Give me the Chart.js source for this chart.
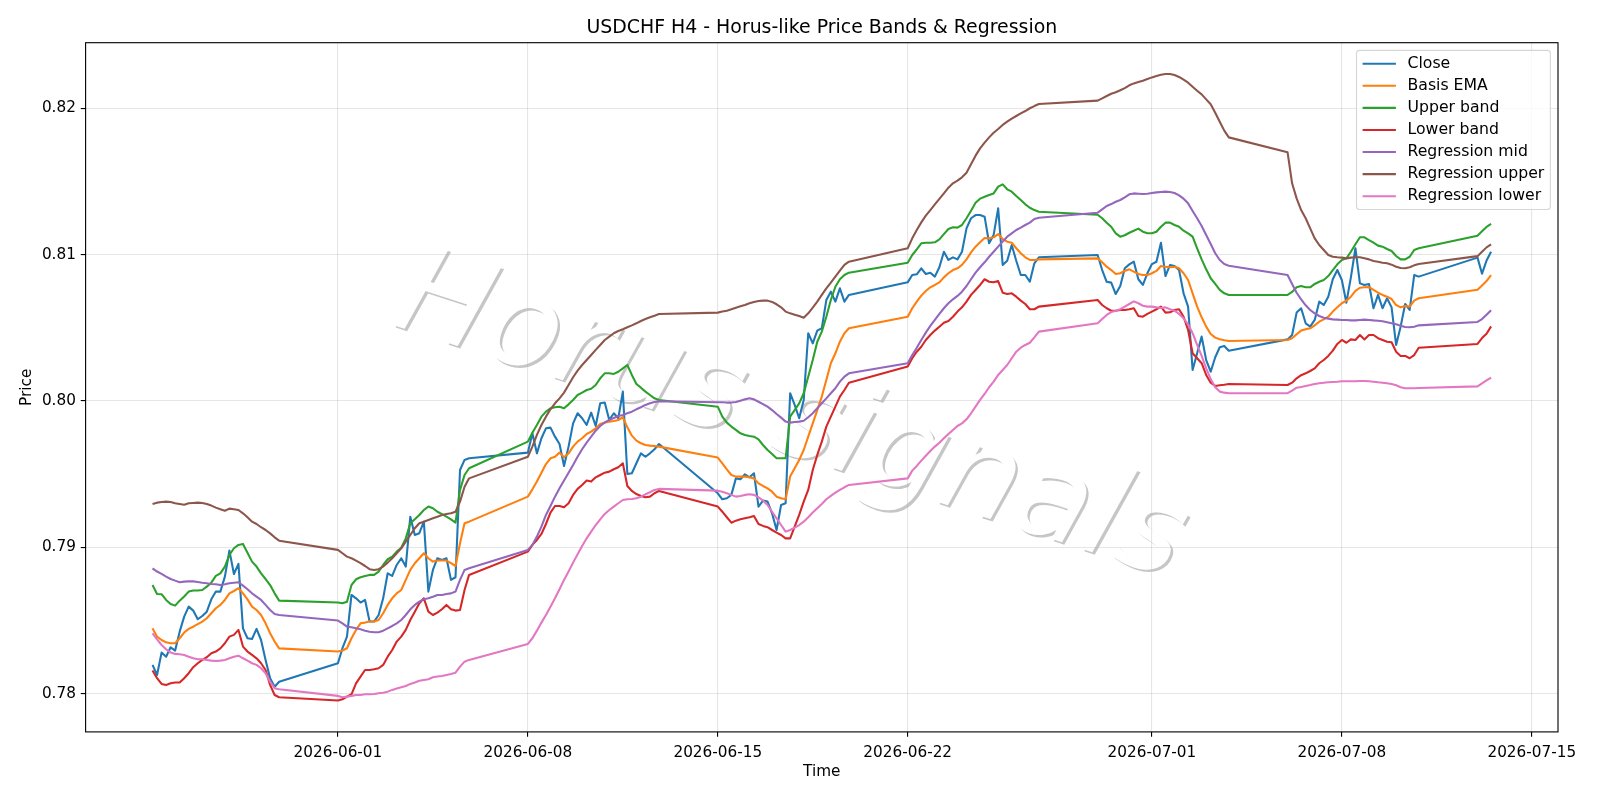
<!DOCTYPE html>
<html>
<head>
<meta charset="utf-8">
<title>USDCHF H4 - Horus-like Price Bands & Regression</title>
<script src="https://cdn.jsdelivr.net/npm/chart.js@4.4.1/dist/chart.umd.min.js"></script>
<style>
  html, body { margin: 0; padding: 0; background: #fff; }
  #chart { display: block; width: 1600px; height: 800px; }
</style>
</head>
<body>
<canvas id="chart" width="1600" height="800"></canvas>
<script>
"use strict";

// ── Data ───────────────────────────────────────────────────────────── //
// H4 bars, weekdays only (weekends show up as straight joins)
const tradingDays = [
  "2026-05-25", "2026-05-26", "2026-05-27", "2026-05-28", "2026-05-29",
  "2026-06-01", "2026-06-02", "2026-06-03", "2026-06-04", "2026-06-05",
  "2026-06-08", "2026-06-09", "2026-06-10", "2026-06-11", "2026-06-12",
  "2026-06-15", "2026-06-16", "2026-06-17", "2026-06-18", "2026-06-19",
  "2026-06-22", "2026-06-23", "2026-06-24", "2026-06-25", "2026-06-26",
  "2026-06-29", "2026-06-30", "2026-07-01", "2026-07-02", "2026-07-03",
  "2026-07-06", "2026-07-07", "2026-07-08", "2026-07-09", "2026-07-10",
  "2026-07-13",
];
const barHours  = [0, 4, 8, 12, 16, 20];
const FIRST_BAR = "2026-05-25T04:00";
const LAST_BAR  = "2026-07-13T12:00";

const xTickDates  = ["2026-06-01", "2026-06-08", "2026-06-15", "2026-06-22", "2026-07-01", "2026-07-08", "2026-07-15"];
const yTickValues = [0.78, 0.79, 0.80, 0.81, 0.82];

const close = [
  0.78196, 0.78127, 0.78280, 0.78252, 0.78316, 0.78294, 0.78423, 0.78526, 0.78594, 0.78567, 0.78508, 0.78530, 0.78560, 0.78644, 0.78697, 0.78697, 0.78799, 0.78977, 0.78817, 0.78886, 0.78446, 0.78378, 0.78373, 0.78442, 0.78366, 0.78230, 0.78105, 0.78047, 0.78081,
  0.78207, 0.78310, 0.78389, 0.78674, 0.78651, 0.78622, 0.78640, 0.78492, 0.78492, 0.78537, 0.78651, 0.78822, 0.78804, 0.78879, 0.78925, 0.78868, 0.79209, 0.79084, 0.79096, 0.79175, 0.78697, 0.78845, 0.78925, 0.78913, 0.78925, 0.78777, 0.78795, 0.79528, 0.79597, 0.79608,
  0.79647, 0.79779, 0.79642, 0.79745, 0.79813, 0.79818, 0.79756, 0.79706, 0.79556, 0.79688, 0.79847, 0.79916, 0.79882, 0.79836, 0.79920, 0.79829, 0.79984, 0.79989, 0.79870, 0.79916, 0.79882, 0.80064, 0.79501, 0.79506, 0.79574, 0.79642, 0.79619, 0.79642, 0.79670, 0.79706,
  0.79369, 0.79328, 0.79335, 0.79358, 0.79471, 0.79465, 0.79499, 0.79478, 0.79506, 0.79278, 0.79319, 0.79312, 0.79232, 0.79118, 0.79289, 0.79301, 0.80053, 0.79973, 0.79882, 0.80007, 0.80463, 0.80394, 0.80481, 0.80497, 0.80690, 0.80747, 0.80679, 0.80770, 0.80679, 0.80725,
  0.80811, 0.80861, 0.80866, 0.80907, 0.80868, 0.80877, 0.80850, 0.80914, 0.81020, 0.80964, 0.80982, 0.80968, 0.81020, 0.81180, 0.81249, 0.81271, 0.81271, 0.81260, 0.81078, 0.81135, 0.81317, 0.80930, 0.80959, 0.81066, 0.80959, 0.80861, 0.80861, 0.80815, 0.80941, 0.80982,
  0.80998, 0.80895, 0.80815, 0.80809, 0.80731, 0.80786, 0.80907, 0.80934, 0.80952, 0.80832, 0.80793, 0.80873, 0.80936, 0.80952, 0.81082, 0.80854, 0.80930, 0.80923, 0.80895, 0.80736, 0.80645, 0.80212, 0.80326, 0.80440, 0.80280, 0.80200, 0.80299, 0.80367, 0.80376, 0.80344,
  0.80421, 0.80451, 0.80604, 0.80634, 0.80531, 0.80508, 0.80554, 0.80679, 0.80656, 0.80713, 0.80832, 0.80895, 0.80827, 0.80672, 0.80845, 0.81044, 0.80804, 0.80793, 0.80800, 0.80634, 0.80725, 0.80634, 0.80702, 0.80640, 0.80383, 0.80508, 0.80663, 0.80622, 0.80861, 0.80850,
  0.80980, 0.80870, 0.80960, 0.81020,
];
const basisEma = [
  0.78446, 0.78389, 0.78366, 0.78350, 0.78344, 0.78344, 0.78378, 0.78417, 0.78442, 0.78457, 0.78474, 0.78492, 0.78515, 0.78549, 0.78583, 0.78606, 0.78640, 0.78685, 0.78701, 0.78720, 0.78685, 0.78644, 0.78594, 0.78571, 0.78537, 0.78480, 0.78412, 0.78355, 0.78309,
  0.78287, 0.78294, 0.78310, 0.78378, 0.78435, 0.78480, 0.78485, 0.78492, 0.78492, 0.78503, 0.78549, 0.78606, 0.78651, 0.78685, 0.78708, 0.78777, 0.78845, 0.78891, 0.78925, 0.78959, 0.78925, 0.78902, 0.78909, 0.78909, 0.78909, 0.78891, 0.78872, 0.79027, 0.79164, 0.79175,
  0.79346, 0.79396, 0.79449, 0.79510, 0.79569, 0.79608, 0.79619, 0.79647, 0.79615, 0.79642, 0.79688, 0.79722, 0.79745, 0.79774, 0.79790, 0.79813, 0.79843, 0.79852, 0.79859, 0.79863, 0.79870, 0.79889, 0.79820, 0.79763, 0.79729, 0.79711, 0.79699, 0.79695, 0.79692, 0.79688,
  0.79613, 0.79574, 0.79533, 0.79494, 0.79483, 0.79483, 0.79483, 0.79478, 0.79471, 0.79437, 0.79419, 0.79403, 0.79380, 0.79346, 0.79335, 0.79328, 0.79483, 0.79540, 0.79597, 0.79665, 0.79756, 0.79847, 0.79938, 0.80030, 0.80144, 0.80258, 0.80326, 0.80405, 0.80463, 0.80497,
  0.80576, 0.80634, 0.80679, 0.80720, 0.80752, 0.80777, 0.80793, 0.80811, 0.80845, 0.80873, 0.80895, 0.80907, 0.80930, 0.80968, 0.81016, 0.81055, 0.81085, 0.81114, 0.81112, 0.81119, 0.81141, 0.81107, 0.81089, 0.81082, 0.81044, 0.81010, 0.80982, 0.80964, 0.80964, 0.80968,
  0.80975, 0.80948, 0.80918, 0.80895, 0.80868, 0.80873, 0.80889, 0.80900, 0.80884, 0.80868, 0.80861, 0.80861, 0.80873, 0.80889, 0.80923, 0.80918, 0.80914, 0.80918, 0.80907, 0.80873, 0.80827, 0.80736, 0.80645, 0.80572, 0.80508, 0.80458, 0.80433, 0.80422, 0.80415, 0.80410,
  0.80417, 0.80429, 0.80456, 0.80481, 0.80490, 0.80497, 0.80517, 0.80542, 0.80558, 0.80576, 0.80611, 0.80640, 0.80668, 0.80686, 0.80713, 0.80752, 0.80774, 0.80777, 0.80779, 0.80759, 0.80740, 0.80725, 0.80713, 0.80697, 0.80656, 0.80640, 0.80649, 0.80645, 0.80686, 0.80702,
  0.80760, 0.80790, 0.80820, 0.80860,
];
const upperBand = [
  0.78742, 0.78681, 0.78679, 0.78640, 0.78612, 0.78601, 0.78635, 0.78663, 0.78697, 0.78704, 0.78704, 0.78708, 0.78731, 0.78758, 0.78804, 0.78822, 0.78868, 0.78947, 0.78993, 0.79016, 0.79023, 0.78963, 0.78902, 0.78868, 0.78822, 0.78783, 0.78742, 0.78685, 0.78635,
  0.78622, 0.78617, 0.78628, 0.78742, 0.78781, 0.78795, 0.78804, 0.78811, 0.78811, 0.78834, 0.78879, 0.78918, 0.78936, 0.78970, 0.78997, 0.79061, 0.79164, 0.79191, 0.79221, 0.79255, 0.79278, 0.79267, 0.79243, 0.79226, 0.79209, 0.79191, 0.79168, 0.79392, 0.79494, 0.79540,
  0.79722, 0.79783, 0.79836, 0.79893, 0.79927, 0.79950, 0.79957, 0.79961, 0.79950, 0.79977, 0.80007, 0.80041, 0.80057, 0.80075, 0.80084, 0.80109, 0.80155, 0.80189, 0.80189, 0.80185, 0.80200, 0.80223, 0.80246, 0.80178, 0.80116, 0.80091, 0.80064, 0.80041, 0.80018, 0.80007,
  0.79961, 0.79893, 0.79852, 0.79825, 0.79802, 0.79779, 0.79768, 0.79761, 0.79756, 0.79738, 0.79699, 0.79665, 0.79638, 0.79608, 0.79608, 0.79608, 0.79893, 0.79938, 0.79984, 0.80053, 0.80166, 0.80280, 0.80405, 0.80474, 0.80576, 0.80690, 0.80781, 0.80832, 0.80861, 0.80877,
  0.80945, 0.80998, 0.81037, 0.81078, 0.81082, 0.81082, 0.81085, 0.81105, 0.81141, 0.81176, 0.81187, 0.81185, 0.81203, 0.81249, 0.81301, 0.81355, 0.81383, 0.81396, 0.81408, 0.81419, 0.81465, 0.81481, 0.81447, 0.81431, 0.81401, 0.81374, 0.81344, 0.81321, 0.81305, 0.81294,
  0.81273, 0.81249, 0.81219, 0.81191, 0.81146, 0.81123, 0.81133, 0.81150, 0.81164, 0.81178, 0.81157, 0.81146, 0.81146, 0.81157, 0.81191, 0.81219, 0.81219, 0.81203, 0.81191, 0.81164, 0.81146, 0.81123, 0.81044, 0.80968, 0.80900, 0.80839, 0.80800, 0.80759, 0.80736, 0.80725,
  0.80725, 0.80745, 0.80777, 0.80786, 0.80777, 0.80777, 0.80800, 0.80815, 0.80827, 0.80854, 0.80895, 0.80934, 0.80964, 0.80975, 0.81020, 0.81071, 0.81119, 0.81119, 0.81100, 0.81082, 0.81062, 0.81055, 0.81039, 0.81025, 0.80991, 0.80968, 0.80968, 0.80986, 0.81032, 0.81044,
  0.81130, 0.81160, 0.81190, 0.81210,
];
const lowerBand = [
  0.78157, 0.78105, 0.78066, 0.78059, 0.78070, 0.78075, 0.78075, 0.78105, 0.78139, 0.78180, 0.78207, 0.78230, 0.78248, 0.78275, 0.78287, 0.78309, 0.78344, 0.78389, 0.78401, 0.78435, 0.78321, 0.78287, 0.78264, 0.78241, 0.78207, 0.78161, 0.78059, 0.77990, 0.77975,
  0.77952, 0.77961, 0.77979, 0.77995, 0.78070, 0.78116, 0.78161, 0.78161, 0.78166, 0.78173, 0.78196, 0.78252, 0.78298, 0.78355, 0.78389, 0.78435, 0.78503, 0.78560, 0.78617, 0.78651, 0.78560, 0.78537, 0.78553, 0.78576, 0.78606, 0.78576, 0.78567, 0.78571, 0.78708, 0.78811,
  0.78970, 0.79016, 0.79050, 0.79091, 0.79159, 0.79237, 0.79282, 0.79282, 0.79273, 0.79301, 0.79358, 0.79399, 0.79426, 0.79456, 0.79449, 0.79478, 0.79494, 0.79510, 0.79517, 0.79533, 0.79547, 0.79574, 0.79419, 0.79385, 0.79364, 0.79351, 0.79342, 0.79346, 0.79369, 0.79385,
  0.79278, 0.79243, 0.79205, 0.79168, 0.79182, 0.79191, 0.79198, 0.79205, 0.79214, 0.79159, 0.79146, 0.79137, 0.79118, 0.79100, 0.79084, 0.79061, 0.79061, 0.79141, 0.79221, 0.79312, 0.79392, 0.79528, 0.79631, 0.79722, 0.79825, 0.79893, 0.79961, 0.80030, 0.80075, 0.80125,
  0.80235, 0.80292, 0.80337, 0.80371, 0.80417, 0.80451, 0.80481, 0.80508, 0.80535, 0.80547, 0.80576, 0.80611, 0.80640, 0.80679, 0.80725, 0.80759, 0.80793, 0.80832, 0.80815, 0.80811, 0.80820, 0.80740, 0.80731, 0.80736, 0.80713, 0.80686, 0.80663, 0.80627, 0.80627, 0.80645,
  0.80690, 0.80656, 0.80634, 0.80617, 0.80617, 0.80622, 0.80622, 0.80627, 0.80634, 0.80581, 0.80576, 0.80595, 0.80611, 0.80627, 0.80645, 0.80604, 0.80606, 0.80622, 0.80627, 0.80576, 0.80485, 0.80326, 0.80292, 0.80258, 0.80178, 0.80125, 0.80103, 0.80107, 0.80111, 0.80116,
  0.80109, 0.80125, 0.80155, 0.80176, 0.80189, 0.80205, 0.80223, 0.80258, 0.80280, 0.80308, 0.80344, 0.80390, 0.80417, 0.80398, 0.80421, 0.80417, 0.80451, 0.80421, 0.80451, 0.80451, 0.80429, 0.80417, 0.80405, 0.80401, 0.80337, 0.80308, 0.80308, 0.80292, 0.80314, 0.80364,
  0.80390, 0.80430, 0.80460, 0.80510,
];
const regMid = [
  0.78856, 0.78834, 0.78818, 0.78799, 0.78783, 0.78772, 0.78761, 0.78765, 0.78767, 0.78767, 0.78763, 0.78758, 0.78754, 0.78749, 0.78747, 0.78742, 0.78747, 0.78754, 0.78758, 0.78761, 0.78738, 0.78713, 0.78685, 0.78663, 0.78640, 0.78606, 0.78571, 0.78544, 0.78537,
  0.78499, 0.78480, 0.78457, 0.78453, 0.78446, 0.78439, 0.78430, 0.78423, 0.78419, 0.78419, 0.78430, 0.78446, 0.78462, 0.78480, 0.78503, 0.78537, 0.78576, 0.78606, 0.78628, 0.78645, 0.78651, 0.78662, 0.78674, 0.78674, 0.78681, 0.78685, 0.78697, 0.78777, 0.78845, 0.78856,
  0.78982, 0.79016, 0.79073, 0.79141, 0.79221, 0.79282, 0.79346, 0.79403, 0.79456, 0.79510, 0.79563, 0.79619, 0.79670, 0.79715, 0.79756, 0.79797, 0.79829, 0.79854, 0.79870, 0.79884, 0.79897, 0.79904, 0.79916, 0.79927, 0.79943, 0.79957, 0.79973, 0.79984, 0.79993, 0.79998,
  0.79991, 0.79991, 0.79989, 0.79989, 0.79993, 0.80002, 0.80011, 0.80018, 0.80011, 0.79995, 0.79979, 0.79961, 0.79938, 0.79911, 0.79886, 0.79859, 0.79852, 0.79856, 0.79859, 0.79865, 0.79889, 0.79916, 0.79950, 0.79984, 0.80018, 0.80053, 0.80087, 0.80132, 0.80166, 0.80189,
  0.80258, 0.80314, 0.80364, 0.80417, 0.80467, 0.80513, 0.80554, 0.80595, 0.80634, 0.80668, 0.80695, 0.80718, 0.80747, 0.80786, 0.80832, 0.80877, 0.80914, 0.80948, 0.80986, 0.81020, 0.81055, 0.81089, 0.81123, 0.81146, 0.81169, 0.81185, 0.81203, 0.81219, 0.81244, 0.81253,
  0.81287, 0.81310, 0.81333, 0.81346, 0.81362, 0.81374, 0.81392, 0.81413, 0.81419, 0.81417, 0.81415, 0.81417, 0.81422, 0.81426, 0.81429, 0.81431, 0.81429, 0.81422, 0.81406, 0.81383, 0.81351, 0.81299, 0.81249, 0.81196, 0.81135, 0.81073, 0.81010, 0.80964, 0.80936, 0.80925,
  0.80861, 0.80800, 0.80740, 0.80695, 0.80654, 0.80622, 0.80599, 0.80581, 0.80569, 0.80563, 0.80558, 0.80556, 0.80554, 0.80554, 0.80551, 0.80551, 0.80554, 0.80556, 0.80554, 0.80551, 0.80549, 0.80545, 0.80538, 0.80531, 0.80524, 0.80515, 0.80506, 0.80504, 0.80508, 0.80517,
  0.80540, 0.80560, 0.80590, 0.80620,
];
const regUpper = [
  0.79296, 0.79305, 0.79310, 0.79312, 0.79310, 0.79301, 0.79296, 0.79291, 0.79301, 0.79303, 0.79305, 0.79303, 0.79296, 0.79285, 0.79271, 0.79260, 0.79250, 0.79264, 0.79260, 0.79255, 0.79232, 0.79205, 0.79175, 0.79159, 0.79137, 0.79118, 0.79095, 0.79068, 0.79045,
  0.78982, 0.78959, 0.78936, 0.78925, 0.78909, 0.78891, 0.78872, 0.78850, 0.78845, 0.78850, 0.78868, 0.78895, 0.78925, 0.78959, 0.78993, 0.79038, 0.79084, 0.79130, 0.79164, 0.79175, 0.79187, 0.79198, 0.79209, 0.79221, 0.79228, 0.79232, 0.79243, 0.79312, 0.79414, 0.79471,
  0.79619, 0.79688, 0.79768, 0.79836, 0.79893, 0.79943, 0.79984, 0.80018, 0.80057, 0.80109, 0.80162, 0.80207, 0.80246, 0.80280, 0.80314, 0.80349, 0.80383, 0.80417, 0.80440, 0.80463, 0.80478, 0.80490, 0.80504, 0.80517, 0.80531, 0.80547, 0.80560, 0.80572, 0.80583, 0.80595,
  0.80604, 0.80611, 0.80617, 0.80627, 0.80638, 0.80647, 0.80656, 0.80668, 0.80677, 0.80684, 0.80686, 0.80686, 0.80677, 0.80661, 0.80640, 0.80611, 0.80599, 0.80590, 0.80581, 0.80569, 0.80599, 0.80638, 0.80679, 0.80725, 0.80770, 0.80809, 0.80850, 0.80891, 0.80930, 0.80952,
  0.81044, 0.81112, 0.81169, 0.81221, 0.81267, 0.81305, 0.81344, 0.81381, 0.81419, 0.81458, 0.81488, 0.81506, 0.81529, 0.81560, 0.81618, 0.81677, 0.81727, 0.81766, 0.81802, 0.81834, 0.81859, 0.81887, 0.81909, 0.81930, 0.81948, 0.81966, 0.81982, 0.82001, 0.82016, 0.82030,
  0.82053, 0.82069, 0.82085, 0.82100, 0.82110, 0.82124, 0.82139, 0.82158, 0.82171, 0.82180, 0.82189, 0.82201, 0.82212, 0.82221, 0.82230, 0.82235, 0.82235, 0.82228, 0.82215, 0.82196, 0.82176, 0.82148, 0.82121, 0.82096, 0.82062, 0.82028, 0.81970, 0.81909, 0.81848, 0.81802,
  0.81700, 0.81488, 0.81385, 0.81305, 0.81249, 0.81180, 0.81112, 0.81066, 0.81032, 0.80998, 0.80986, 0.80982, 0.80980, 0.80975, 0.80980, 0.80982, 0.80982, 0.80975, 0.80968, 0.80957, 0.80952, 0.80945, 0.80941, 0.80932, 0.80918, 0.80909, 0.80907, 0.80914, 0.80927, 0.80936,
  0.80990, 0.81020, 0.81050, 0.81070,
];
const regLower = [
  0.78412, 0.78371, 0.78332, 0.78303, 0.78280, 0.78271, 0.78269, 0.78264, 0.78252, 0.78241, 0.78234, 0.78234, 0.78230, 0.78225, 0.78223, 0.78225, 0.78230, 0.78241, 0.78252, 0.78259, 0.78241, 0.78225, 0.78207, 0.78196, 0.78173, 0.78139, 0.78081, 0.78036, 0.78029,
  0.77984, 0.77975, 0.77979, 0.77984, 0.77990, 0.77990, 0.77995, 0.77995, 0.77997, 0.78002, 0.78006, 0.78013, 0.78025, 0.78034, 0.78043, 0.78052, 0.78066, 0.78075, 0.78088, 0.78093, 0.78098, 0.78111, 0.78116, 0.78120, 0.78127, 0.78134, 0.78143, 0.78184, 0.78218, 0.78230,
  0.78339, 0.78378, 0.78430, 0.78485, 0.78537, 0.78594, 0.78651, 0.78713, 0.78777, 0.78834, 0.78895, 0.78952, 0.79009, 0.79061, 0.79107, 0.79152, 0.79191, 0.79228, 0.79255, 0.79278, 0.79301, 0.79323, 0.79328, 0.79330, 0.79335, 0.79346, 0.79362, 0.79376, 0.79392, 0.79399,
  0.79387, 0.79380, 0.79369, 0.79358, 0.79346, 0.79351, 0.79358, 0.79362, 0.79358, 0.79342, 0.79319, 0.79289, 0.79243, 0.79198, 0.79152, 0.79107, 0.79118, 0.79134, 0.79152, 0.79175, 0.79205, 0.79237, 0.79267, 0.79296, 0.79328, 0.79351, 0.79373, 0.79392, 0.79410, 0.79426,
  0.79471, 0.79524, 0.79556, 0.79592, 0.79626, 0.79658, 0.79688, 0.79715, 0.79745, 0.79774, 0.79802, 0.79829, 0.79847, 0.79875, 0.79916, 0.79961, 0.80007, 0.80048, 0.80094, 0.80132, 0.80178, 0.80212, 0.80246, 0.80292, 0.80337, 0.80364, 0.80383, 0.80398, 0.80435, 0.80474,
  0.80531, 0.80560, 0.80588, 0.80608, 0.80617, 0.80627, 0.80645, 0.80663, 0.80681, 0.80668, 0.80651, 0.80645, 0.80645, 0.80640, 0.80636, 0.80640, 0.80627, 0.80617, 0.80595, 0.80565, 0.80524, 0.80463, 0.80383, 0.80308, 0.80223, 0.80150, 0.80094, 0.80064, 0.80057, 0.80053,
  0.80053, 0.80071, 0.80091, 0.80096, 0.80103, 0.80109, 0.80116, 0.80121, 0.80125, 0.80128, 0.80130, 0.80132, 0.80135, 0.80135, 0.80135, 0.80135, 0.80137, 0.80137, 0.80135, 0.80132, 0.80128, 0.80125, 0.80121, 0.80116, 0.80107, 0.80094, 0.80087, 0.80087, 0.80087, 0.80089,
  0.80100, 0.80120, 0.80140, 0.80160,
];

const SERIES = [
  { label: "Close",            values: close,     color: "#1f77b4" },
  { label: "Basis EMA",        values: basisEma,  color: "#ff7f0e" },
  { label: "Upper band",       values: upperBand, color: "#2ca02c" },
  { label: "Lower band",       values: lowerBand, color: "#d62728" },
  { label: "Regression mid",   values: regMid,    color: "#9467bd" },
  { label: "Regression upper", values: regUpper,  color: "#8c564b" },
  { label: "Regression lower", values: regLower,  color: "#e377c2" },
];

// ── Time axis (days since 2026-06-01) ──────────────────────────────── //
const ORIGIN = Date.parse("2026-06-01T00:00Z");
const toDays = s => (Date.parse(s + "Z") - ORIGIN) / 86400000;

const firstT = toDays(FIRST_BAR);
const lastT  = toDays(LAST_BAR);
const times = [];
tradingDays.forEach(d => barHours.forEach(h => {
  const t = toDays(d + "T00:00") + h / 24;
  if (t >= firstT - 1e-9 && t <= lastT + 1e-9) times.push(t);
}));
const xTicks = xTickDates.map(d => toDays(d + "T00:00"));

// matplotlib-like 5% margins
const xSpan = lastT - firstT;
const X_MIN = firstT - 0.05 * xSpan;
const X_MAX = lastT + 0.05 * xSpan;
const allY = SERIES.flatMap(s => s.values);
const yLo = Math.min(...allY), yHi = Math.max(...allY);
const Y_MIN = yLo - 0.05 * (yHi - yLo);
const Y_MAX = yHi + 0.05 * (yHi - yLo);

// ── Look ───────────────────────────────────────────────────────────── //
const FONT     = '"DejaVu Sans", "Liberation Sans", sans-serif';
const FS       = 15.28;   // tick / axis label size
const LEG_FS   = 15.7;
const TITLE_FS = 18.9;
const GRID     = "rgba(176,176,176,0.32)";
const SPINE_W  = 1.11;
const TICK_LEN = 4.86;

// ── Plugins ────────────────────────────────────────────────────────── //
const watermark = {
  id: "watermark",
  beforeDraw(chart) {
    const { ctx, width, height } = chart;
    ctx.save();
    ctx.fillStyle = "#fff";
    ctx.fillRect(0, 0, width, height);
    ctx.translate(390, 324);
    ctx.rotate(18 * Math.PI / 180);
    ctx.font = `italic 122px ${FONT}`;
    ctx.textAlign = "left";
    ctx.textBaseline = "alphabetic";
    ctx.shadowColor = "rgba(77,77,77,0.32)";
    ctx.shadowOffsetX = 2.4;
    ctx.shadowOffsetY = 2.4;
    ctx.shadowBlur = 0;
    ctx.fillStyle = "#fff";
    ctx.fillText("Horus signals", 0, 0);
    ctx.restore();
  },
};

const frame = {
  id: "frame",
  afterDatasetsDraw(chart) {
    const { ctx, chartArea: a } = chart;
    ctx.save();
    ctx.strokeStyle = "#000";
    ctx.lineWidth = SPINE_W;
    ctx.strokeRect(a.left, a.top, a.right - a.left, a.bottom - a.top);
    ctx.restore();
  },
  afterDraw(chart) {
    const { ctx, chartArea: a } = chart;
    const cx = (a.left + a.right) / 2;
    ctx.save();
    ctx.fillStyle = "#000";

    // title
    ctx.font = `${TITLE_FS}px ${FONT}`;
    ctx.textAlign = "center";
    ctx.textBaseline = "alphabetic";
    ctx.fillText("USDCHF H4 - Horus-like Price Bands & Regression", cx, a.top - 9.3);

    // axis labels
    ctx.font = `${FS}px ${FONT}`;
    ctx.textBaseline = "middle";
    ctx.fillText("Time", cx, 772);
    ctx.save();
    ctx.translate(27.5, (a.top + a.bottom) / 2);
    ctx.rotate(-Math.PI / 2);
    ctx.fillText("Price", 0, 0);
    ctx.restore();

    // legend, upper right
    ctx.font = `${LEG_FS}px ${FONT}`;
    const pad = 6.1, gap = 7.64, hLen = 33.3, hPad = 11.6, axPad = 7.64;
    const rowH = 14.45;
    const textW = Math.max(...SERIES.map(s => ctx.measureText(s.label).width));
    const w = 2 * pad + hLen + hPad + textW;
    const h = 2 * pad + SERIES.length * rowH + (SERIES.length - 1) * gap;
    const x = a.right - axPad - w;
    const y = a.top + axPad;
    ctx.beginPath();
    ctx.roundRect(x, y, w, h, 3);
    ctx.fillStyle = "rgba(255,255,255,0.8)";
    ctx.fill();
    ctx.strokeStyle = "rgba(204,204,204,0.8)";
    ctx.lineWidth = 1.1;
    ctx.stroke();

    ctx.textAlign = "left";
    SERIES.forEach((s, i) => {
      const ry = y + pad + rowH / 2 + i * (rowH + gap);
      ctx.beginPath();
      ctx.moveTo(x + pad, ry);
      ctx.lineTo(x + pad + hLen, ry);
      ctx.strokeStyle = s.color;
      ctx.lineWidth = 2.08;
      ctx.stroke();
      ctx.fillStyle = "#000";
      ctx.fillText(s.label, x + pad + hLen + hPad, ry);
    });
    ctx.restore();
  },
};

// ── Chart ──────────────────────────────────────────────────────────── //
const datasets = SERIES.map((s, i) => ({
  label: s.label,
  data: times.map((t, k) => ({ x: t, y: s.values[k] })),
  borderColor: s.color,
  backgroundColor: s.color,
  borderWidth: 2.08,
  borderJoinStyle: "round",
  pointRadius: 0,
  tension: 0,
  fill: false,
  order: SERIES.length - 1 - i,   // later series on top, like matplotlib
}));

const axisCommon = {
  grid: {
    color: GRID,
    lineWidth: 1.11,
    tickColor: "#000",
    tickWidth: SPINE_W,
    tickLength: TICK_LEN,
  },
  border: { display: false },
};

new Chart(document.getElementById("chart"), {
  type: "line",
  data: { datasets },
  options: {
    responsive: false,
    devicePixelRatio: 1,
    animation: false,
    events: [],
    layout: { padding: { top: 42.7, right: 42, bottom: 0, left: 0 } },
    plugins: {
      legend: { display: false },
      tooltip: { enabled: false },
      title: { display: false },
    },
    scales: {
      x: {
        ...axisCommon,
        type: "linear",
        bounds: "data",
        min: X_MIN,
        max: X_MAX,
        afterBuildTicks: sc => { sc.ticks = xTicks.map(v => ({ value: v })); },
        afterFit: sc => { sc.height = 800 - 731.9; },
        ticks: {
          autoSkip: false,
          maxRotation: 0,
          padding: 7.5,
          color: "#000",
          font: { family: FONT, size: FS },
          callback: (v, i) => xTickDates[i],
        },
      },
      y: {
        ...axisCommon,
        type: "linear",
        bounds: "data",
        min: Y_MIN,
        max: Y_MAX,
        afterBuildTicks: sc => { sc.ticks = yTickValues.map(v => ({ value: v })); },
        afterFit: sc => { sc.width = 85.6; },
        ticks: {
          padding: 4.86,
          color: "#000",
          font: { family: FONT, size: FS },
          callback: v => v.toFixed(2),
        },
      },
    },
  },
  plugins: [watermark, frame],
});
</script>
</body>
</html>
